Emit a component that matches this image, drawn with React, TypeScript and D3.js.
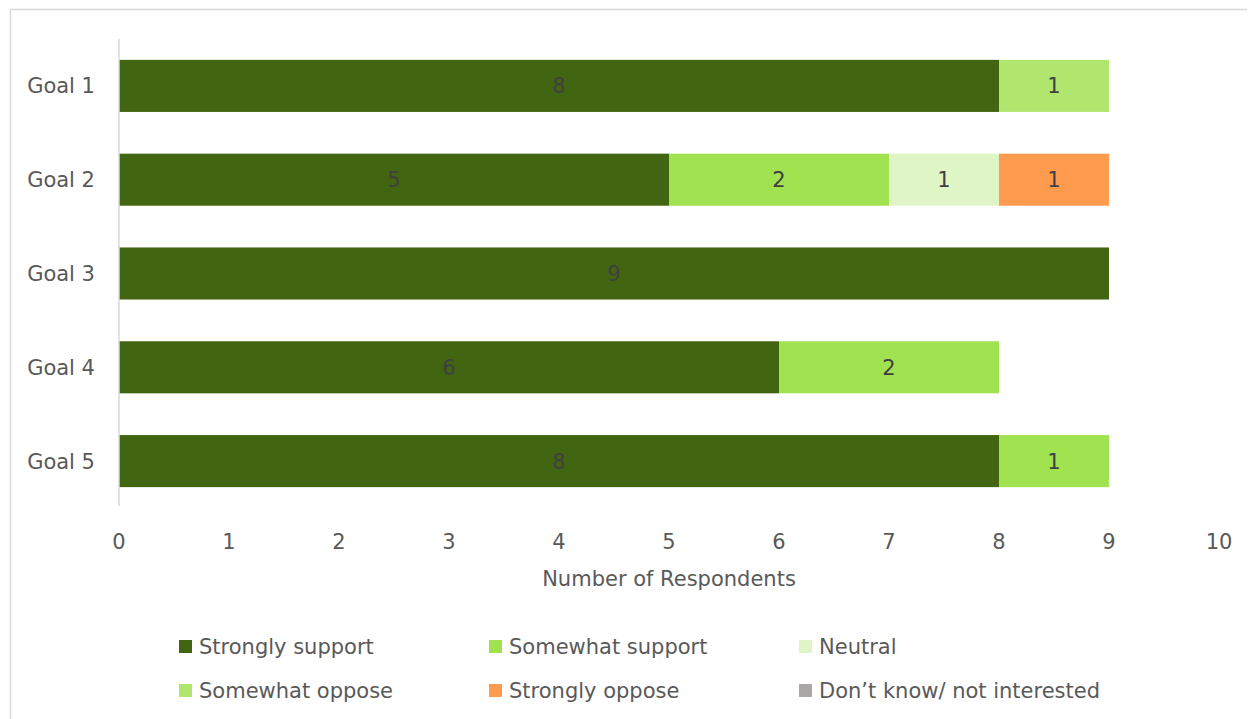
import React from "react";
import * as d3 from "d3";

const goals = ["Goal 1", "Goal 2", "Goal 3", "Goal 4", "Goal 5"];
const seriesNames = ["Strongly support", "Somewhat support", "Neutral", "Somewhat oppose", "Strongly oppose", "Don’t know/ not interested"];
const seriesColors = ["#426511", "#A0E250", "#E0F5C6", "#B0E66E", "#FF9B4F", "#ABA7A7"];
const stronglySupport = [8, 5, 9, 6, 8];
const somewhatSupport = [0, 2, 0, 2, 1];
const neutral = [0, 1, 0, 0, 0];
const somewhatOppose = [1, 0, 0, 0, 0];
const stronglyOppose = [0, 1, 0, 0, 0];
const dontKnow = [0, 0, 0, 0, 0];
const xTicks = [0, 1, 2, 3, 4, 5, 6, 7, 8, 9, 10];

const FONT = "Tahoma, 'DejaVu Sans', Verdana, sans-serif";
const FS = 21;

export default function App() {
  const W = 1248, H = 719;
  const x = d3.scaleLinear().domain([0, 10]).range([119, 1219]);
  const y = d3.scaleBand().domain(goals).range([39, 508]).paddingInner(0.445).paddingOuter(0.2225);
  const values = [stronglySupport, somewhatSupport, neutral, somewhatOppose, stronglyOppose, dontKnow];
  const rows = goals.map((g, i) => {
    const r: any = { goal: g };
    seriesNames.forEach((s, k) => (r[s] = values[k][i]));
    return r;
  });
  const stacked = d3.stack().keys(seriesNames)(rows);

  const legendCols = [179, 489, 799];
  const legendRows = [646, 690];

  return (
    <svg width={W} height={H} style={{ position: "absolute", left: 0, top: 0, background: "#fff" }} fontFamily={FONT}>
      <rect x={0} y={0} width={W} height={H} fill="#fff" />
      <line x1={10.5} y1={9.5} x2={1247} y2={9.5} stroke="#D9D9D9" strokeWidth={1.5} />
      <line x1={10.5} y1={9.5} x2={10.5} y2={H} stroke="#D9D9D9" strokeWidth={1.5} />
      {stacked.map((layer, k) => (
        <g key={k}>
          {layer.map((d, i) => {
            const v = d[1] - d[0];
            if (v <= 0) return null;
            const x0 = x(d[0]), x1 = x(d[1]);
            const yy = y(goals[i])!;
            return (
              <g key={i}>
                <rect x={x0} y={yy} width={x1 - x0} height={y.bandwidth()} fill={seriesColors[k]} />
                <text x={(x0 + x1) / 2} y={yy + y.bandwidth() / 2} dy="0.36em" textAnchor="middle" fontSize={FS} fill="#404040">{v}</text>
              </g>
            );
          })}
        </g>
      ))}
      <line x1={x(0)} y1={39} x2={x(0)} y2={506} stroke="#D9D9D9" strokeWidth={1.5} />
      {goals.map((g) => (
        <text key={g} x={95} y={y(g)! + y.bandwidth() / 2} dy="0.36em" textAnchor="end" fontSize={FS} fill="#595959">{g}</text>
      ))}
      {xTicks.map((t) => (
        <text key={t} x={x(t)} y={541} dy="0.36em" textAnchor="middle" fontSize={FS} fill="#595959">{t}</text>
      ))}
      <text x={x(5)} y={578} dy="0.36em" textAnchor="middle" fontSize={FS} fill="#595959">Number of Respondents</text>
      {seriesNames.map((s, k) => {
        const cx = legendCols[k % 3];
        const cy = legendRows[Math.floor(k / 3)];
        return (
          <g key={s}>
            <rect x={cx} y={cy - 6} width={13} height={13} fill={seriesColors[k]} />
            <text x={cx + 20} y={cy} dy="0.36em" fontSize={FS} fill="#595959">{s}</text>
          </g>
        );
      })}
    </svg>
  );
}
